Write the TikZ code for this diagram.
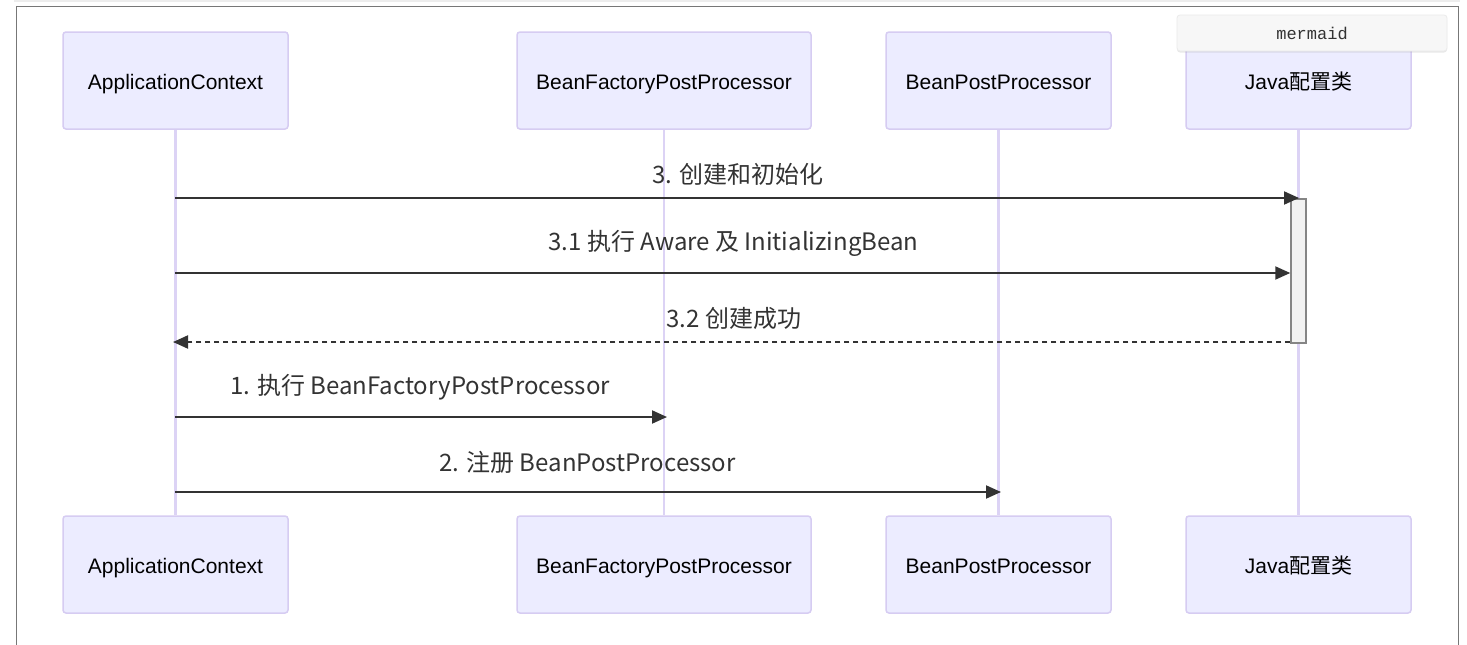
\documentclass[tikz,border=0pt]{standalone}
\usepackage{fontspec}
\setmainfont{Liberation Sans}
\newfontfamily\cjk{Noto Sans CJK SC}
\newfontfamily\monof{Liberation Mono}
\usetikzlibrary{arrows.meta,shadows}
\definecolor{actfill}{HTML}{ECECFF}
\definecolor{actdraw}{HTML}{D6CCF2}
\definecolor{lifec}{HTML}{DCD3F5}
\definecolor{msgc}{HTML}{333333}
\definecolor{framec}{HTML}{777777}
\tikzset{
  actor/.style={draw=actdraw, line width=1.5pt, fill=actfill, rounded corners=3pt,
    minimum height=97pt, inner sep=0pt, text height=19pt, text depth=2pt,
    font=\fontsize{21}{25}\selectfont, text=black},
  life/.style={draw=lifec, line width=2.5pt},
  msg/.style={draw=msgc, line width=2pt, -{Triangle[length=15pt,width=13pt]}},
  dmsg/.style={msg, dash pattern=on 5pt off 4pt},
  lbl/.style={font=\cjk\fontsize{24}{28}\selectfont, text=msgc, inner sep=0pt},
  actbox/.style={draw=framec!90, line width=1.5pt, fill=black!5},
}
\begin{document}
\begin{tikzpicture}[x=1pt,y=-1pt]
\useasboundingbox (0,0) rectangle (1467,645);
\fill[white] (0,0) rectangle (1467,645);
% outer frame
\fill[black!7] (14,0) rectangle (1460,2);
\draw[framec, line width=1.5pt] (16.5,650) -- (16.5,6.5) -- (1458.5,6.5) -- (1458.5,650);
% actors
\node[actor, minimum width=225pt] (a1) at (175.5,80.5) {ApplicationContext};
\node[actor, minimum width=294pt] (b1) at (664,80.5) {BeanFactoryPostProcessor};
\node[actor, minimum width=225pt] (c1) at (998.5,80.5) {BeanPostProcessor};
\node[actor, minimum width=225pt] (d1) at (1298.5,80.5) {Java{\cjk 配置类}};
\node[actor, minimum width=225pt] (a2) at (175.5,564.5) {ApplicationContext};
\node[actor, minimum width=294pt] (b2) at (664,564.5) {BeanFactoryPostProcessor};
\node[actor, minimum width=225pt] (c2) at (998.5,564.5) {BeanPostProcessor};
\node[actor, minimum width=225pt] (d2) at (1298.5,564.5) {Java{\cjk 配置类}};
% lifelines
\draw[life] (a1.south) -- (a2.north);
\draw[life] (b1.south) -- (b2.north);
\draw[life] (c1.south) -- (c2.north);
\draw[life] (d1.south) -- (d2.north);
% activation
\node[actbox, minimum width=15pt, minimum height=144pt, inner sep=0pt, anchor=north] (act) at (1298.5,198) {};
% message points
\coordinate (m3s) at (175,198);   \coordinate (m3e) at (1299,198);
\coordinate (m31s) at (175,273);  \coordinate (m31e) at (act.west |- 0,273);
\coordinate (m32s) at (act.west |- 0,342); \coordinate (m32e) at (173,342);
\coordinate (m1s) at (175,417);   \coordinate (m1e) at (667,417);
\coordinate (m2s) at (175,492);   \coordinate (m2e) at (1001,492);
\draw[msg] (m3s) -- (m3e);
\draw[msg] (m31s) -- (m31e);
\draw[dmsg] (m32s) -- (m32e);
\draw[msg] (m1s) -- (m1e);
\draw[msg] (m2s) -- (m2e);
% labels
\node[lbl] (l3) at (738,174) {3. 创建和初始化};
\node[lbl] (l31) at (733.5,243) {3.1 执行 Aware 及 InitializingBean};
\node[lbl] (l32) at (734,318) {3.2 创建成功};
\node[lbl] (l1) at (420,387) {1. 执行 BeanFactoryPostProcessor};
\node[lbl] (l2) at (587.5,462) {2. 注册 BeanPostProcessor};
% mermaid tag
\node[draw=black!8, line width=0.8pt, fill=black!3, rounded corners=3pt,
  minimum width=270pt, minimum height=36pt, inner sep=0pt,
  drop shadow={opacity=0.18, shadow xshift=0pt, shadow yshift=-1.5pt},
  font=\monof\fontsize{17}{19}\selectfont, text=msgc] (tag) at (1312,33) {mermaid};
\end{tikzpicture}
\end{document}
